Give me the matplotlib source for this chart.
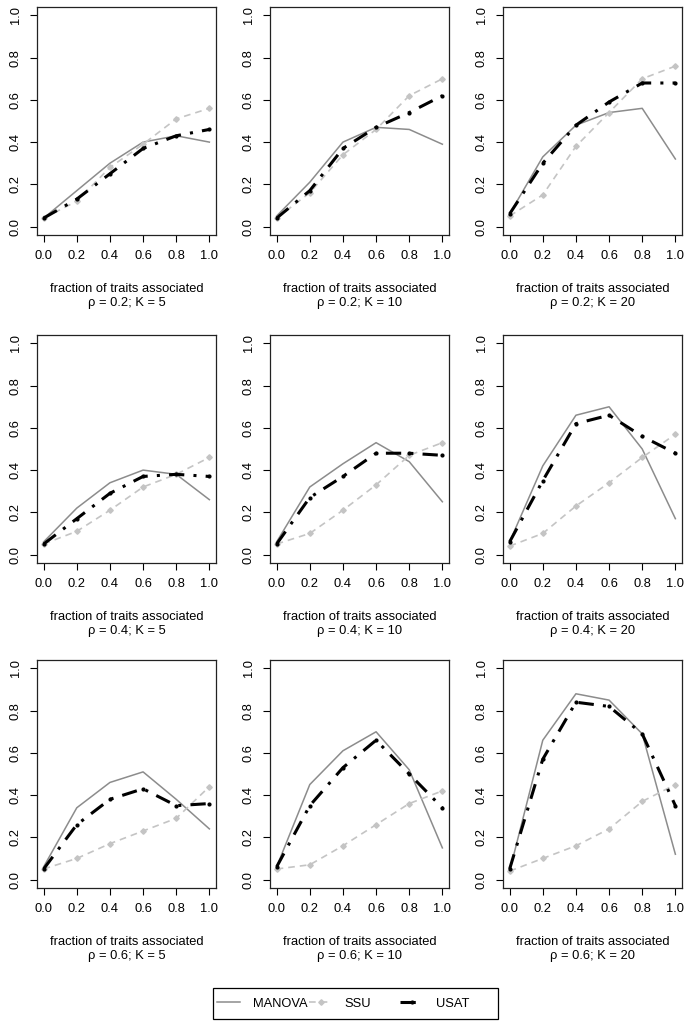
import matplotlib
matplotlib.use("Agg")
import matplotlib.pyplot as plt
from matplotlib.lines import Line2D
from matplotlib.patches import Rectangle

# fraction of traits associated (x axis)
frac = [0.0, 0.2, 0.4, 0.6, 0.8, 1.0]
rhos = [0.2, 0.4, 0.6]
ks = [5, 10, 20]

# power per panel, rows = rho, columns = K
manova = [
    [[0.04, 0.17, 0.30, 0.40, 0.43, 0.40],
     [0.05, 0.21, 0.40, 0.47, 0.46, 0.39],
     [0.06, 0.33, 0.48, 0.54, 0.56, 0.32]],
    [[0.06, 0.22, 0.34, 0.40, 0.38, 0.26],
     [0.06, 0.32, 0.43, 0.53, 0.44, 0.25],
     [0.06, 0.42, 0.66, 0.70, 0.50, 0.17]],
    [[0.06, 0.34, 0.46, 0.51, 0.38, 0.24],
     [0.06, 0.45, 0.61, 0.70, 0.52, 0.15],
     [0.04, 0.66, 0.88, 0.85, 0.69, 0.12]],
]
ssu = [
    [[0.04, 0.12, 0.28, 0.39, 0.51, 0.56],
     [0.04, 0.16, 0.34, 0.46, 0.62, 0.70],
     [0.05, 0.15, 0.38, 0.54, 0.70, 0.76]],
    [[0.05, 0.11, 0.21, 0.32, 0.38, 0.46],
     [0.05, 0.10, 0.21, 0.33, 0.47, 0.53],
     [0.04, 0.10, 0.23, 0.34, 0.46, 0.57]],
    [[0.05, 0.10, 0.17, 0.23, 0.29, 0.44],
     [0.05, 0.07, 0.16, 0.26, 0.36, 0.42],
     [0.04, 0.10, 0.16, 0.24, 0.37, 0.45]],
]
usat = [
    [[0.04, 0.13, 0.25, 0.37, 0.43, 0.46],
     [0.04, 0.17, 0.37, 0.47, 0.54, 0.62],
     [0.06, 0.30, 0.48, 0.59, 0.68, 0.68]],
    [[0.05, 0.17, 0.29, 0.37, 0.38, 0.37],
     [0.05, 0.27, 0.37, 0.48, 0.48, 0.47],
     [0.06, 0.35, 0.62, 0.66, 0.56, 0.48]],
    [[0.05, 0.26, 0.38, 0.43, 0.35, 0.36],
     [0.06, 0.35, 0.53, 0.66, 0.50, 0.34],
     [0.05, 0.57, 0.84, 0.82, 0.69, 0.35]],
]
methods = ["MANOVA", "SSU", "USAT"]

plt.rcParams["font.family"] = ["Liberation Sans", "DejaVu Sans"]
plt.rcParams["font.size"] = 9.3

W, H = 694, 1029
fig = plt.figure(figsize=(W / 100, H / 100), dpi=100)

col_left = [37, 270, 503]
row_top = [7, 335, 660]
aw, ah = 179, 228

man_style = dict(color="#8c8c8c", lw=1.1)
ssu_style = dict(color="#c4c4c4", lw=1.2, dashes=(4, 3), marker="D", ms=2.8)
usat_style = dict(color="black", lw=2.2, dashes=(5, 3, 1, 3), marker="o", ms=2.0)

for i, rho in enumerate(rhos):
    for j, k in enumerate(ks):
        ax = fig.add_axes([col_left[j] / W, 1 - (row_top[i] + ah) / H, aw / W, ah / H])
        ax.plot(frac, manova[i][j], **man_style)
        ax.plot(frac, ssu[i][j], **ssu_style)
        ax.plot(frac, usat[i][j], **usat_style)
        ax.set_xlim(-0.04, 1.04)
        ax.set_ylim(-0.04, 1.04)
        ax.set_xticks(frac)
        ax.set_yticks(frac)
        ax.set_xticklabels([f"{v:.1f}" for v in frac])
        ax.set_yticklabels([f"{v:.1f}" for v in frac], rotation=90, va="center")
        ax.tick_params(length=5, width=0.8, pad=6, labelsize=9.3)
        for s in ax.spines.values():
            s.set_linewidth(0.9)
            s.set_color("#222222")
        ax.text(0.5, -(289 - 235) / ah, "fraction of traits associated",
                transform=ax.transAxes, ha="center", va="center")
        ax.text(0.5, -(303 - 235) / ah, f"ρ = {rho}; K = {k}",
                transform=ax.transAxes, ha="center", va="center")

# legend: equal-width columns inside one box, like R's legend()
handles = [Line2D([], [], **man_style), Line2D([], [], **ssu_style),
           Line2D([], [], **usat_style)]
entry_x = [217, 309, 400]
for h, lab, x0 in zip(handles, methods, entry_x):
    fig.legend([h], [lab], loc="center left", frameon=False,
               bbox_to_anchor=(x0 / W, 1 - 1003.5 / H),
               handlelength=1.8, handletextpad=0.95,
               borderaxespad=0, borderpad=0)
fig.patches.append(Rectangle((213 / W, 1 - 1019 / H), 285 / W, 31 / H,
                             transform=fig.transFigure, fill=False,
                             edgecolor="black", lw=0.9))

fig.savefig("out.png", dpi=100)
